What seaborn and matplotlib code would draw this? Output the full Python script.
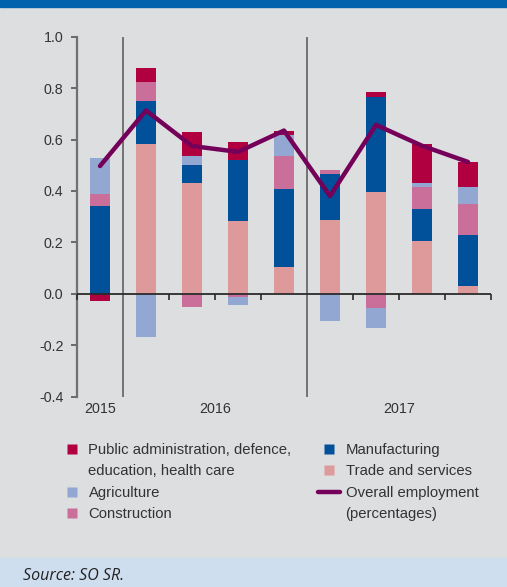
import numpy as np
import pandas as pd
import matplotlib
matplotlib.use("Agg")
import matplotlib.pyplot as plt
from matplotlib.patches import Rectangle
from matplotlib.lines import Line2D
import seaborn as sns

# Contributions to employment growth by sector (percentage points)
quarters = ["2015Q4", "2016Q1", "2016Q2", "2016Q3", "2016Q4",
            "2017Q1", "2017Q2", "2017Q3", "2017Q4"]
trade = [0.000, 0.582, 0.430, 0.282, 0.103, 0.286, 0.395, 0.204, 0.032]
manufacturing = [0.340, 0.167, 0.070, 0.239, 0.303, 0.179, 0.370, 0.125, 0.195]
construction = [0.050, 0.074, -0.052, -0.014, 0.129, 0.015, -0.057, 0.085, 0.121]
agriculture = [0.138, -0.169, 0.035, -0.030, 0.082, -0.104, -0.074, 0.016, 0.066]
public_admin = [-0.029, 0.055, 0.094, 0.069, 0.015, 0.000, 0.020, 0.152, 0.098]
overall = [0.497, 0.713, 0.575, 0.552, 0.635, 0.380, 0.657, 0.576, 0.513]

year_labels = ["2015", "2016", "2017"]
year_centers = [0, 2.5, 6.5]
y_ticks = [-0.4, -0.2, 0.0, 0.2, 0.4, 0.6, 0.8, 1.0]
y_tick_labels = ["-0.4", "-0.2", "0.0", "0.2", "0.4", "0.6", "0.8", "1.0"]

c_public = "#B0003F"
c_manuf = "#00509A"
c_trade = "#DE9A9B"
c_agri = "#93A7D3"
c_constr = "#C96F99"
c_line = "#74005A"
bg = "#DDDEE0"
txt = "#333333"

sns.set_style("white")
plt.rcParams["font.family"] = ["Liberation Sans", "DejaVu Sans"]

fig = plt.figure(figsize=(5.07, 5.87), dpi=100, facecolor=bg)
W, H = 507, 587
ax = fig.add_axes([77 / W, 1 - 396.7 / H, 414 / W, (396.7 - 36.7) / H])
ax.set_facecolor(bg)

# header and source bands
fig.add_artist(Rectangle((0, 1 - 7 / H), 1, 7 / H, transform=fig.transFigure,
                         color="#0062AC", zorder=0))
fig.add_artist(Rectangle((0, 0), 1, 29.5 / H, transform=fig.transFigure,
                         color="#CFDEEE", zorder=0))
fig.text(23 / W, (H - 576.5) / H, "Source: SO SR.", fontsize=11.5, style="italic",
         family=["Open Sans", "DejaVu Sans"], color="#222222", va="center", ha="left")

# stacked bars, positives above zero and negatives below
layers = [
    ("Trade and services", trade, c_trade),
    ("Manufacturing", manufacturing, c_manuf),
    ("Construction", construction, c_constr),
    ("Agriculture", agriculture, c_agri),
    ("Public administration", public_admin, c_public),
]
pos_base = np.zeros(len(quarters))
neg_base = np.zeros(len(quarters))
for name, vals, col in layers:
    v = np.asarray(vals, dtype=float)
    bottom = np.where(v >= 0, pos_base, neg_base)
    df = pd.DataFrame({"quarter": quarters, "value": v})
    sns.barplot(data=df, x="quarter", y="value", order=quarters, bottom=bottom,
                color=col, saturation=1, width=0.43, errorbar=None,
                linewidth=0, ax=ax, zorder=2)
    pos_base += np.where(v > 0, v, 0)
    neg_base += np.where(v < 0, v, 0)

# overall employment line
sns.lineplot(x=np.arange(len(quarters)), y=overall, color=c_line, linewidth=3.2,
             ax=ax, zorder=4)

n = len(quarters)
ax.set_xlim(-0.5, n - 0.5)
ax.set_ylim(-0.4, 1.0)

# zero line, year dividers and quarter ticks
ax.axhline(0, color="#2b2b2b", linewidth=1.3, zorder=3)
for xd in (0.5, 4.5):
    ax.axvline(xd, color="#6a6a6a", linewidth=1.3, zorder=1)
edges = np.arange(n + 1) - 0.5
ax.vlines([e for e in edges if e not in (0.5, 4.5)], -0.023, 0,
          color="#2b2b2b", linewidth=1.2, zorder=3, clip_on=False)

ax.set_yticks(y_ticks)
ax.set_yticklabels(y_tick_labels)
ax.set_xticks(year_centers)
ax.set_xticklabels(year_labels)
ax.set_xlabel("")
ax.set_ylabel("")
ax.tick_params(axis="y", direction="out", length=4.3, width=1.2, color="#555555",
               pad=5.5, labelsize=10.3, labelcolor=txt, left=True)
ax.tick_params(axis="x", length=0, pad=4, labelsize=10.3, labelcolor=txt)

for s in ("top", "right", "bottom"):
    ax.spines[s].set_visible(False)
ax.spines["left"].set_color("#707070")
ax.spines["left"].set_linewidth(1.6)

# legend
def sq(c):
    return Line2D([], [], marker="s", linestyle="none", markersize=7.3,
                  markerfacecolor=c, markeredgecolor="none")

blank = Line2D([], [], linestyle="none", marker=None)
handles = [sq(c_public), blank, sq(c_agri), sq(c_constr),
           sq(c_manuf), sq(c_trade),
           Line2D([], [], color=c_line, linewidth=3.2), blank]
labels = ["Public administration, defence,", "education, health care",
          "Agriculture", "Construction",
          "Manufacturing", "Trade and services",
          "Overall employment", "(percentages)"]
fs = 10.7
em = fs * 100 / 72
fig.legend(handles, labels, ncol=2, loc="upper left",
           bbox_to_anchor=(60.5 / W, 1 - 443 / H), frameon=False,
           fontsize=fs, handlelength=22 / em, handletextpad=6 / em,
           labelspacing=0.5, columnspacing=26 / em, borderpad=0,
           borderaxespad=0, labelcolor=txt)

fig.savefig("out.png", dpi=100, facecolor=bg)
